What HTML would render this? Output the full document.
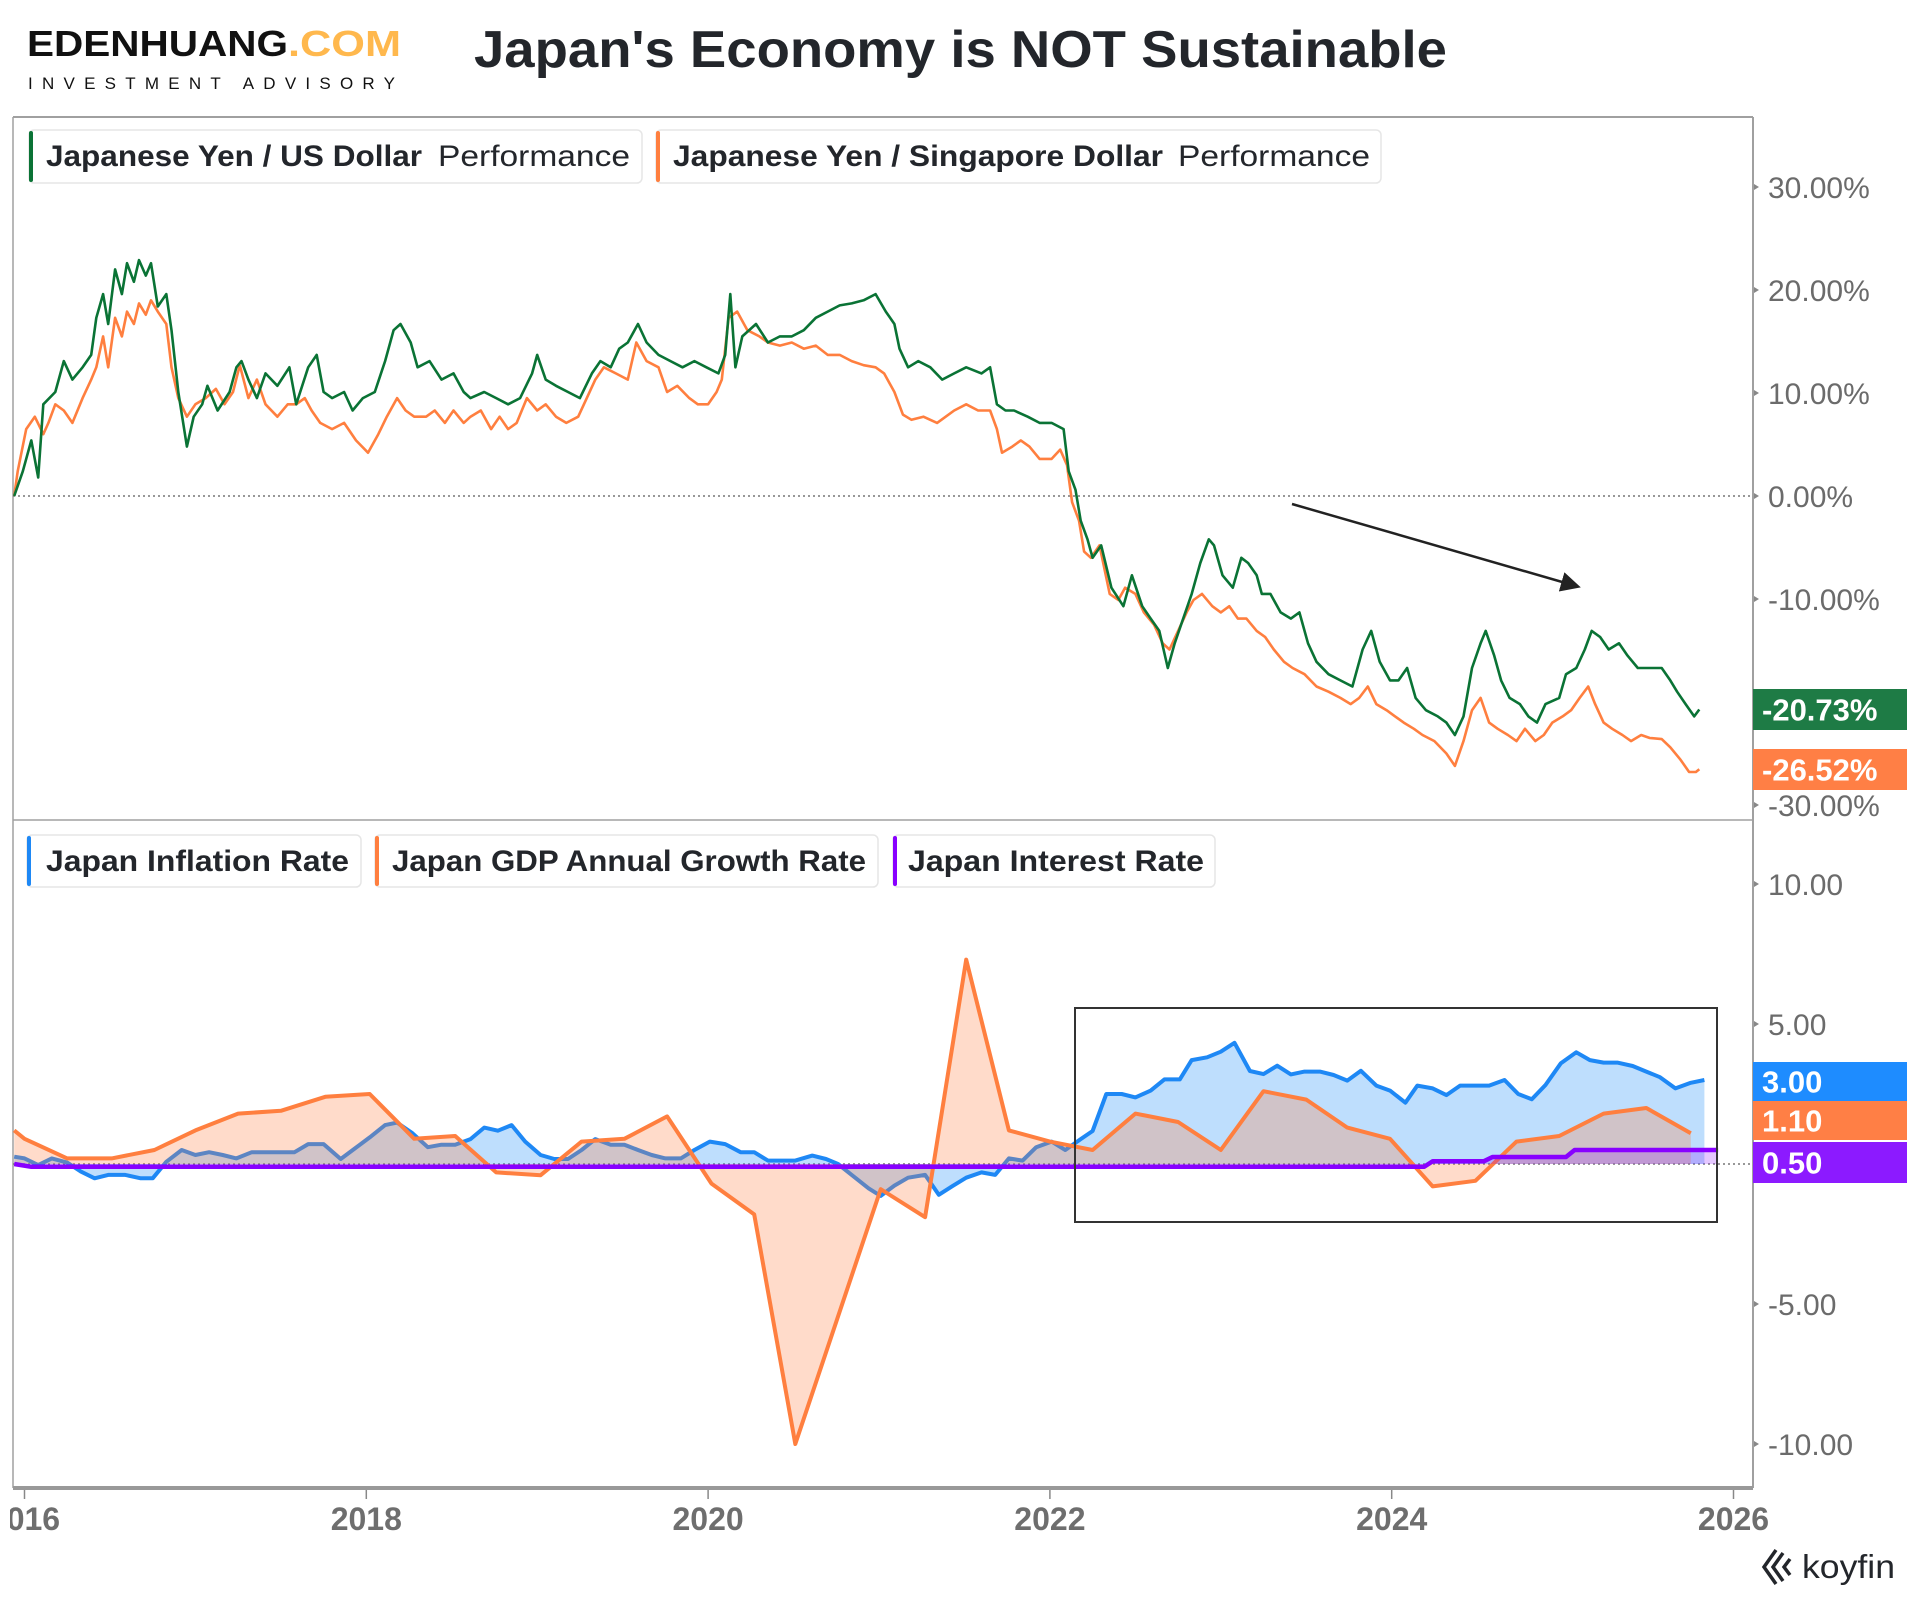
<!DOCTYPE html>
<html><head><meta charset="utf-8"><style>
html,body{margin:0;padding:0;background:#fff;}
svg{display:block;font-family:"Liberation Sans",sans-serif;}
</style></head><body>
<svg id="chart" width="1920" height="1600" viewBox="0 0 1920 1600" xmlns="http://www.w3.org/2000/svg">
<defs>
<clipPath id="clipTop"><rect x="13" y="117" width="1740" height="703"/></clipPath>
<clipPath id="clipBot"><rect x="13" y="820" width="1740" height="668"/></clipPath>
<clipPath id="clipX"><rect x="10" y="1490" width="1910" height="60"/></clipPath>
<marker id="arrowHead" markerWidth="10" markerHeight="10" refX="6" refY="5" orient="auto" markerUnits="strokeWidth"><path d="M0,1 L8,5 L0,9 Z" fill="#222"/></marker>
</defs>
<rect width="1920" height="1600" fill="#fff"/>
<g>
<text x="27" y="56" font-size="36" font-weight="bold" fill="#111" textLength="261" lengthAdjust="spacingAndGlyphs">EDENHUANG</text>
<text x="288" y="56" font-size="36" font-weight="bold" fill="#ffb84d" textLength="113" lengthAdjust="spacingAndGlyphs">.COM</text>
<text x="28" y="89" font-size="17" fill="#111" textLength="367" lengthAdjust="spacing">INVESTMENT ADVISORY</text>
</g>
<text x="474" y="67" font-size="52" font-weight="bold" fill="#23262b" textLength="973" lengthAdjust="spacingAndGlyphs">Japan's Economy is NOT Sustainable</text>

<g stroke="#a0a0a0" fill="none">
<line x1="13" y1="117" x2="1753" y2="117" stroke-width="2"/>
<line x1="13" y1="117" x2="13" y2="1488" stroke-width="1.5"/>
<line x1="1753" y1="117" x2="1753" y2="1488" stroke-width="2"/>
<line x1="13" y1="820" x2="1753" y2="820" stroke-width="1.5"/>
<line x1="13" y1="1488" x2="1753" y2="1488" stroke-width="4" stroke="#999"/>
</g>
<line x1="13" y1="496" x2="1753" y2="496" stroke="#777" stroke-width="1.5" stroke-dasharray="2,3"/>
<line x1="13" y1="1164" x2="1753" y2="1164" stroke="#777" stroke-width="1.5" stroke-dasharray="2,3"/>

<g id="topSeries" clip-path="url(#clipTop)"></g>
<g id="botSeries" clip-path="url(#clipBot)"></g>
<g id="axes"></g>

<line x1="1292" y1="504" x2="1576" y2="586" stroke="#222" stroke-width="2.5" marker-end="url(#arrowHead)"/>
<rect x="1075" y="1008" width="642" height="214" fill="none" stroke="#333" stroke-width="2"/>

<g>
<g>
<rect x="29" y="130" width="613" height="53" rx="5" fill="#fff" stroke="#e6e6e6" stroke-width="1.5"/>
<rect x="29" y="131" width="4" height="51" rx="2" fill="#0a7335"/>
<text x="46" y="166" font-size="30" font-weight="bold" fill="#23262b" textLength="376" lengthAdjust="spacingAndGlyphs">Japanese Yen / US Dollar</text>
<text x="438" y="166" font-size="30" fill="#23262b" textLength="192" lengthAdjust="spacingAndGlyphs">Performance</text>
</g>
<g>
<rect x="656" y="130" width="725" height="53" rx="5" fill="#fff" stroke="#e6e6e6" stroke-width="1.5"/>
<rect x="656" y="131" width="4" height="51" rx="2" fill="#ff7f3f"/>
<text x="673" y="166" font-size="30" font-weight="bold" fill="#23262b" textLength="490" lengthAdjust="spacingAndGlyphs">Japanese Yen / Singapore Dollar</text>
<text x="1178" y="166" font-size="30" fill="#23262b" textLength="192" lengthAdjust="spacingAndGlyphs">Performance</text>
</g>
</g>
<g>
<g>
<rect x="27" y="835" width="334" height="52" rx="5" fill="#fff" stroke="#e6e6e6" stroke-width="1.5"/>
<rect x="27" y="836" width="4" height="50" rx="2" fill="#1e88f5"/>
<text x="46" y="871" font-size="30" font-weight="bold" fill="#23262b" textLength="303" lengthAdjust="spacingAndGlyphs">Japan Inflation Rate</text>
</g>
<g>
<rect x="375" y="835" width="503" height="52" rx="5" fill="#fff" stroke="#e6e6e6" stroke-width="1.5"/>
<rect x="375" y="836" width="4" height="50" rx="2" fill="#ff7f3f"/>
<text x="392" y="871" font-size="30" font-weight="bold" fill="#23262b" textLength="474" lengthAdjust="spacingAndGlyphs">Japan GDP Annual Growth Rate</text>
</g>
<g>
<rect x="893" y="835" width="322" height="52" rx="5" fill="#fff" stroke="#e6e6e6" stroke-width="1.5"/>
<rect x="893" y="836" width="4" height="50" rx="2" fill="#8800ff"/>
<text x="908" y="871" font-size="30" font-weight="bold" fill="#23262b" textLength="296" lengthAdjust="spacingAndGlyphs">Japan Interest Rate</text>
</g>
</g>

<g>
<path d="M1776,1550 L1764,1567 L1776,1584 M1783,1553 L1773,1567 L1783,1581 M1790,1559 L1784,1567 L1790,1575" fill="none" stroke="#23262b" stroke-width="3.5"/>
<text x="1802" y="1578" font-size="33" fill="#23262b" textLength="93" lengthAdjust="spacingAndGlyphs">koyfin</text>
</g>
</svg>
<script>
const usdDates=[2015.94,2015.99,2016.04,2016.08,2016.11,2016.18,2016.23,2016.28,2016.34,2016.39,2016.42,2016.46,2016.49,2016.53,2016.57,2016.60,2016.64,2016.67,2016.71,2016.74,2016.78,2016.83,2016.86,2016.90,2016.95,2016.99,2017.04,2017.07,2017.13,2017.20,2017.24,2017.27,2017.31,2017.36,2017.41,2017.48,2017.55,2017.59,2017.66,2017.71,2017.75,2017.80,2017.87,2017.92,2017.98,2018.05,2018.11,2018.16,2018.20,2018.26,2018.30,2018.37,2018.44,2018.51,2018.57,2018.61,2018.69,2018.76,2018.83,2018.90,2018.97,2019.00,2019.05,2019.11,2019.18,2019.25,2019.32,2019.37,2019.43,2019.48,2019.53,2019.59,2019.64,2019.71,2019.78,2019.85,2019.92,2019.99,2020.06,2020.10,2020.13,2020.16,2020.20,2020.28,2020.35,2020.42,2020.49,2020.56,2020.63,2020.70,2020.77,2020.84,2020.91,2020.98,2021.04,2021.09,2021.12,2021.17,2021.23,2021.30,2021.37,2021.44,2021.51,2021.60,2021.65,2021.69,2021.74,2021.79,2021.87,2021.94,2022.01,2022.08,2022.11,2022.15,2022.18,2022.22,2022.25,2022.30,2022.36,2022.43,2022.48,2022.54,2022.59,2022.64,2022.69,2022.73,2022.78,2022.83,2022.88,2022.93,2022.96,2023.01,2023.07,2023.12,2023.16,2023.21,2023.24,2023.29,2023.35,2023.41,2023.46,2023.51,2023.56,2023.63,2023.70,2023.77,2023.83,2023.88,2023.93,2023.99,2024.04,2024.09,2024.14,2024.20,2024.27,2024.32,2024.37,2024.42,2024.47,2024.52,2024.55,2024.60,2024.64,2024.69,2024.75,2024.80,2024.85,2024.90,2024.98,2025.02,2025.08,2025.13,2025.17,2025.22,2025.27,2025.33,2025.38,2025.44,2025.51,2025.58,2025.63,2025.67,2025.72,2025.77,2025.80];
const usdValues=[0,2.4,5.4,1.8,8.9,10.1,13.1,11.3,12.5,13.7,17.3,19.6,16.7,22.0,19.6,22.6,20.8,22.9,21.4,22.6,18.4,19.6,16.1,10.1,4.8,7.7,8.9,10.7,8.3,10.1,12.5,13.1,11.3,9.5,11.9,10.7,12.5,8.9,12.5,13.7,10.1,9.5,10.1,8.3,9.5,10.1,13.1,16.1,16.7,14.9,12.5,13.1,11.3,11.9,10.1,9.5,10.1,9.5,8.9,9.5,11.9,13.7,11.3,10.7,10.1,9.5,11.9,13.1,12.5,14.3,14.9,16.7,14.9,13.7,13.1,12.5,13.1,12.5,11.9,13.7,19.6,12.5,15.5,16.7,14.9,15.5,15.5,16.1,17.3,17.9,18.5,18.7,19.0,19.6,17.9,16.7,14.3,12.5,13.1,12.5,11.3,11.9,12.5,11.9,12.5,8.9,8.3,8.3,7.7,7.1,7.1,6.5,2.4,0.6,-2.4,-4.2,-6.0,-4.8,-8.9,-10.7,-7.7,-10.7,-11.9,-13.1,-16.7,-14.3,-11.9,-9.5,-6.5,-4.2,-4.8,-7.7,-8.9,-6.0,-6.5,-7.7,-9.5,-9.5,-11.3,-11.9,-11.3,-14.3,-16.1,-17.3,-17.9,-18.5,-14.9,-13.1,-16.1,-17.9,-17.9,-16.7,-19.6,-20.8,-21.4,-22.0,-23.2,-21.4,-16.7,-14.3,-13.1,-15.5,-17.9,-19.6,-20.2,-21.4,-22.0,-20.2,-19.6,-17.3,-16.7,-14.9,-13.1,-13.7,-14.9,-14.3,-15.5,-16.7,-16.7,-16.7,-17.9,-19.0,-20.2,-21.4,-20.73];
const sgdDates=[2015.94,2015.96,2016.01,2016.06,2016.11,2016.14,2016.18,2016.23,2016.28,2016.34,2016.39,2016.42,2016.46,2016.49,2016.53,2016.57,2016.60,2016.64,2016.67,2016.71,2016.74,2016.78,2016.83,2016.86,2016.90,2016.95,2017.00,2017.06,2017.12,2017.17,2017.22,2017.26,2017.31,2017.36,2017.41,2017.48,2017.54,2017.59,2017.64,2017.68,2017.73,2017.80,2017.87,2017.94,2018.01,2018.07,2018.12,2018.18,2018.23,2018.28,2018.35,2018.40,2018.46,2018.51,2018.57,2018.61,2018.67,2018.73,2018.78,2018.83,2018.88,2018.94,2019.00,2019.05,2019.11,2019.17,2019.24,2019.29,2019.34,2019.39,2019.46,2019.53,2019.58,2019.64,2019.71,2019.76,2019.82,2019.89,2019.94,2020.00,2020.05,2020.08,2020.12,2020.17,2020.23,2020.30,2020.35,2020.42,2020.49,2020.56,2020.63,2020.70,2020.77,2020.84,2020.91,2020.98,2021.03,2021.09,2021.14,2021.19,2021.26,2021.34,2021.39,2021.44,2021.51,2021.58,2021.65,2021.69,2021.72,2021.78,2021.83,2021.88,2021.94,2022.01,2022.06,2022.10,2022.13,2022.17,2022.20,2022.24,2022.29,2022.35,2022.40,2022.44,2022.50,2022.55,2022.61,2022.66,2022.70,2022.75,2022.80,2022.84,2022.89,2022.95,2023.00,2023.05,2023.10,2023.15,2023.21,2023.26,2023.31,2023.37,2023.42,2023.49,2023.56,2023.63,2023.70,2023.76,2023.81,2023.86,2023.91,2023.97,2024.02,2024.07,2024.13,2024.18,2024.25,2024.32,2024.37,2024.42,2024.47,2024.52,2024.57,2024.62,2024.68,2024.73,2024.78,2024.84,2024.89,2024.94,2025.00,2025.05,2025.10,2025.15,2025.19,2025.24,2025.29,2025.35,2025.40,2025.46,2025.51,2025.58,2025.63,2025.69,2025.74,2025.78,2025.80];
const sgdValues=[0,2.4,6.5,7.7,6.0,7.1,8.9,8.3,7.1,9.5,11.3,12.5,15.5,12.5,17.3,15.5,17.9,16.7,18.7,17.6,19.0,17.9,16.7,12.5,9.5,7.7,8.9,9.5,10.4,8.9,10.1,12.7,9.5,11.3,8.9,7.7,8.9,8.9,9.5,8.3,7.1,6.5,7.1,5.4,4.2,6.0,7.7,9.5,8.3,7.7,7.7,8.3,7.1,8.3,7.1,7.7,8.3,6.5,7.7,6.5,7.1,9.5,8.3,8.9,7.7,7.1,7.7,9.5,11.3,12.5,11.9,11.3,14.9,13.1,12.5,10.1,10.7,9.5,8.9,8.9,10.1,11.3,17.3,17.9,16.1,15.5,14.9,14.6,14.9,14.3,14.6,13.7,13.7,13.1,12.7,12.5,11.9,10.1,7.9,7.4,7.7,7.1,7.7,8.3,8.9,8.3,8.3,6.5,4.2,4.8,5.4,4.8,3.6,3.6,4.5,3.0,-0.6,-2.4,-5.4,-6.0,-4.8,-9.5,-10.1,-8.9,-9.5,-11.3,-12.5,-14.3,-14.9,-13.1,-11.3,-10.1,-9.5,-10.7,-11.3,-10.7,-11.9,-11.9,-13.1,-13.7,-14.9,-16.1,-16.7,-17.3,-18.5,-19.0,-19.6,-20.2,-19.6,-18.5,-20.2,-20.8,-21.4,-22.0,-22.6,-23.2,-23.8,-25.0,-26.2,-23.8,-20.8,-19.6,-22.0,-22.6,-23.2,-23.8,-22.6,-23.8,-23.2,-22.0,-21.4,-20.8,-19.6,-18.5,-20.2,-22.0,-22.6,-23.2,-23.8,-23.2,-23.5,-23.6,-24.4,-25.6,-26.8,-26.8,-26.52];
const cpiDates=[2015.94,2016.00,2016.08,2016.16,2016.25,2016.33,2016.41,2016.49,2016.59,2016.68,2016.75,2016.83,2016.92,2017.00,2017.08,2017.16,2017.24,2017.33,2017.41,2017.49,2017.58,2017.66,2017.75,2017.85,2017.93,2018.02,2018.11,2018.18,2018.27,2018.36,2018.44,2018.52,2018.61,2018.69,2018.77,2018.85,2018.93,2019.02,2019.10,2019.18,2019.26,2019.34,2019.43,2019.51,2019.59,2019.67,2019.75,2019.84,2019.92,2020.01,2020.10,2020.19,2020.27,2020.35,2020.43,2020.51,2020.61,2020.69,2020.76,2020.84,2020.94,2021.01,2021.09,2021.17,2021.27,2021.35,2021.43,2021.51,2021.60,2021.68,2021.76,2021.84,2021.92,2022.01,2022.09,2022.18,2022.25,2022.33,2022.42,2022.50,2022.59,2022.67,2022.76,2022.83,2022.92,2023.00,2023.08,2023.17,2023.25,2023.33,2023.41,2023.49,2023.58,2023.66,2023.74,2023.82,2023.91,2023.99,2024.08,2024.15,2024.24,2024.32,2024.40,2024.49,2024.57,2024.66,2024.74,2024.82,2024.90,2024.99,2025.08,2025.16,2025.24,2025.32,2025.41,2025.49,2025.57,2025.66,2025.75,2025.83];
const cpiValues=[0.26,0.2,-0.04,0.2,0.05,-0.27,-0.51,-0.39,-0.39,-0.51,-0.51,0.08,0.5,0.32,0.42,0.32,0.2,0.42,0.42,0.42,0.42,0.71,0.71,0.18,0.54,0.95,1.39,1.48,1.1,0.6,0.69,0.69,0.89,1.3,1.19,1.39,0.8,0.32,0.18,0.18,0.5,0.89,0.69,0.69,0.5,0.32,0.2,0.2,0.5,0.8,0.71,0.42,0.42,0.12,0.12,0.12,0.3,0.18,0,-0.39,-0.87,-1.14,-0.77,-0.49,-0.39,-1.1,-0.79,-0.49,-0.3,-0.39,0.2,0.12,0.6,0.8,0.5,0.89,1.18,2.5,2.5,2.38,2.62,3.02,3.02,3.71,3.81,4.01,4.33,3.32,3.21,3.51,3.2,3.3,3.3,3.18,2.98,3.33,2.8,2.62,2.19,2.8,2.7,2.46,2.8,2.8,2.8,3.0,2.5,2.31,2.82,3.6,3.99,3.71,3.62,3.62,3.5,3.3,3.1,2.7,2.9,3.0];
const gdpDates=[2015.94,2016.00,2016.25,2016.51,2016.76,2017.00,2017.25,2017.50,2017.76,2018.02,2018.28,2018.52,2018.76,2019.02,2019.26,2019.51,2019.76,2020.02,2020.27,2020.51,2021.01,2021.27,2021.51,2021.76,2022.00,2022.25,2022.50,2022.75,2023.00,2023.25,2023.50,2023.74,2023.99,2024.24,2024.49,2024.73,2024.98,2025.24,2025.49,2025.75];
const gdpValues=[1.2,0.9,0.2,0.2,0.5,1.2,1.8,1.9,2.4,2.5,0.9,1.0,-0.3,-0.4,0.8,0.9,1.7,-0.7,-1.8,-10.0,-0.9,-1.9,7.3,1.2,0.8,0.5,1.8,1.5,0.5,2.6,2.3,1.3,0.9,-0.8,-0.6,0.8,1.0,1.8,2.0,1.1];
const rateDates=[2015.94,2016.04,2024.19,2024.24,2024.54,2024.59,2025.02,2025.07,2025.91];
const rateValues=[0,-0.1,-0.1,0.1,0.1,0.25,0.25,0.5,0.5];
const yearTicks=[2016,2018,2020,2022,2024,2026];
const topTicks=[30,20,10,0,-10,-30];
const botTicks=[10,5,-5,-10];
const lastValues=["-20.73%","-26.52%","3.00","1.10","0.50"];

const NS="http://www.w3.org/2000/svg";
function xS(d){return 24.5+(d-2016)*170.9;}
function yTop(v){return 496-v*10.3;}
function yBot(v){return 1164-v*28;}
function mk(tag,attrs,parent){const e=document.createElementNS(NS,tag);for(const k in attrs)e.setAttribute(k,attrs[k]);parent.appendChild(e);return e;}
function pts(ds,vs,ys){const n=Math.min(ds.length,vs.length);const a=[];for(let i=0;i<n;i++)a.push(xS(ds[i]).toFixed(1)+","+ys(vs[i]).toFixed(1));return a;}
function areaD(ds,vs,ys){const p=pts(ds,vs,ys);const n=Math.min(ds.length,vs.length);return "M"+xS(ds[0]).toFixed(1)+","+ys(0)+" L"+p.join(" L")+" L"+xS(ds[n-1]).toFixed(1)+","+ys(0)+" Z";}

const topG=document.getElementById('topSeries');
const botG=document.getElementById('botSeries');
const axesG=document.getElementById('axes');

let l1=mk('polyline',{points:pts(sgdDates,sgdValues,yTop).join(' '),fill:'none',stroke:'#ff7f3f','stroke-width':2.6,'stroke-linejoin':'round'},topG);


let l2=mk('polyline',{points:pts(usdDates,usdValues,yTop).join(' '),fill:'none',stroke:'#0a7335','stroke-width':2.6,'stroke-linejoin':'round'},topG);



let a1=mk('path',{d:areaD(cpiDates,cpiValues,yBot),fill:'rgba(40,145,250,0.3)'},botG);


let b1=mk('polyline',{points:pts(cpiDates,cpiValues,yBot).join(' '),fill:'none',stroke:'#1e88f5','stroke-width':4,'stroke-linejoin':'round'},botG);


let a2=mk('path',{d:areaD(gdpDates,gdpValues,yBot),fill:'rgba(255,127,63,0.28)'},botG);


let b2=mk('polyline',{points:pts(gdpDates,gdpValues,yBot).join(' '),fill:'none',stroke:'#ff7f3f','stroke-width':4,'stroke-linejoin':'round'},botG);


let a3=mk('path',{d:areaD(rateDates,rateValues,yBot),fill:'rgba(136,0,255,0.22)'},botG);


let b3=mk('polyline',{points:pts(rateDates,rateValues,yBot).join(' '),fill:'none',stroke:'#8800ff','stroke-width':4.5,'stroke-linejoin':'round'},botG);



const xg=mk('g',{'clip-path':'url(#clipX)'},axesG);
yearTicks.forEach(function(yr){
  mk('line',{x1:xS(yr),y1:1490,x2:xS(yr),y2:1499,stroke:'#888','stroke-width':1.5},axesG);
  const t=mk('text',{x:xS(yr),y:1530,'text-anchor':'middle','font-size':32,'font-weight':'bold',fill:'#6e6e6e'},xg);
  t.textContent=String(yr);
  
  
});
topTicks.forEach(function(v){
  const y=yTop(v);
  mk('path',{d:'M1754,'+(y-3)+' L1759,'+y+' L1754,'+(y+3)+' Z',fill:'#888'},axesG);
  const t=mk('text',{x:1768,y:y+11,'font-size':30,fill:'#6b6b6b'},axesG);
  t.textContent=(v<0?'-':'')+Math.abs(v).toFixed(2)+'%';
  
  
});
botTicks.forEach(function(v){
  const y=yBot(v);
  mk('path',{d:'M1754,'+(y-3)+' L1759,'+y+' L1754,'+(y+3)+' Z',fill:'#888'},axesG);
  const t=mk('text',{x:1768,y:y+11,'font-size':30,fill:'#6b6b6b'},axesG);
  t.textContent=(v<0?'-':'')+Math.abs(v).toFixed(2);
  
  
});
const badgeColors=['#1e7b45','#ff7f45','#1e8cff','#ff7f45','#8c1aff'];
const badgeY=[689,749,1062,1101,1142];
const badgeH=[41,41,39,39,41];
const badgeNames=['jpy-usd-last-value','jpy-sgd-last-value','inflation-last-value','gdp-last-value','interest-last-value'];
lastValues.forEach(function(s,i){
  const g=mk('g',{},axesG);
  
  
  mk('rect',{x:1753,y:badgeY[i],width:154,height:badgeH[i],fill:badgeColors[i]},g);
  const t=mk('text',{x:1762,y:badgeY[i]+badgeH[i]/2+11,'font-size':31,'font-weight':'bold',fill:'#fff'},g);
  t.textContent=s;
});
</script>
</body></html>
